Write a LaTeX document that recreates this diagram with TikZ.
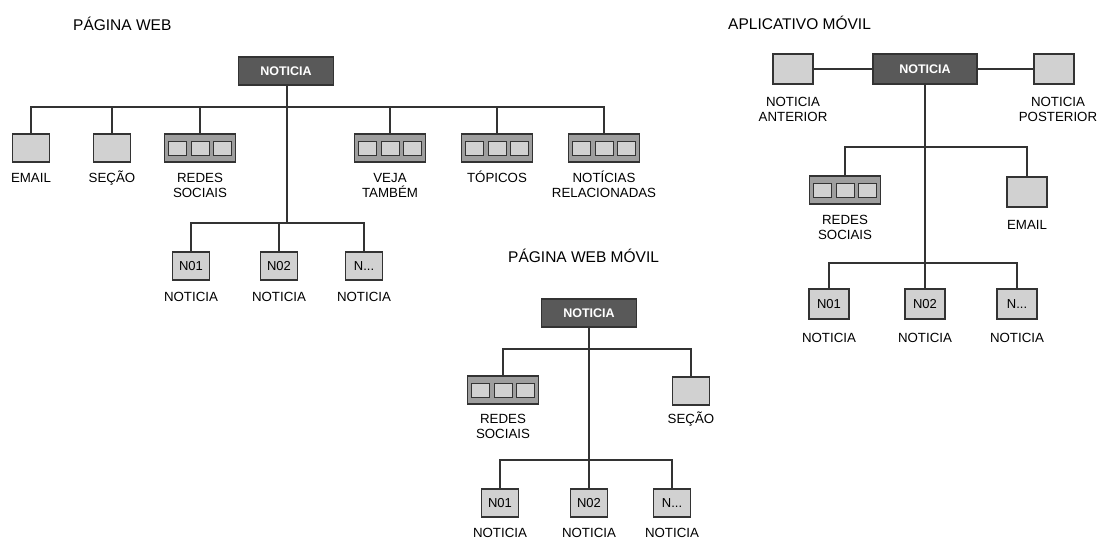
\documentclass[tikz,border=0pt]{standalone}
\usepackage{fontspec}
\setmainfont{Liberation Sans}
\begin{document}
\begin{tikzpicture}[x=1pt,y=-1pt,
  line/.style={draw=black!80,line width=1.1pt},
  head/.style={draw=black!80,line width=1.1pt,fill=black!65,text=white,
    font=\bfseries\fontsize{12.5}{14}\selectfont,minimum width=95pt,minimum height=28pt,inner sep=0pt},
  leaf/.style={draw=black!80,line width=1.1pt,fill=black!18,
    font=\fontsize{13}{15}\selectfont,minimum width=37pt,minimum height=28pt,inner sep=0pt},
  bigleaf/.style={leaf,minimum width=40pt,minimum height=30pt},
  group/.style={draw=black!80,line width=1.1pt,fill=black!38,minimum width=71pt,minimum height=28pt,inner sep=0pt,
    path picture={\foreach \dx in {-22.5,0,22.5}
      \draw[black!80,line width=1pt,fill=black!18]
        ([xshift=\dx pt]path picture bounding box.center) +(-9pt,-7pt) rectangle +(9pt,7pt);}},
  % label nodes sit on the baseline of their last line
  lbl/.style={anchor=base,align=center,inner sep=0pt,font=\fontsize{13.3}{15}\selectfont},
  ttl/.style={anchor=base west,inner sep=0pt,font=\fontsize{15.5}{17}\selectfont}]
\path[fill=white] (0,0) rectangle (1102,538);
\useasboundingbox (0,0) rectangle (1102,538);

% ---------- Pagina web ----------
\node[ttl] (t1) at (73,30) {PÁGINA WEB};
\node[head] (w) at (286,71) {NOTICIA};
\node[leaf] (wemail) at (31,148) {};
\node[leaf] (wsec) at (112,148) {};
\node[group] (wredes) at (200,148) {};
\node[group] (wveja) at (390,148) {};
\node[group] (wtop) at (497,148) {};
\node[group] (wrel) at (604,148) {};
\node[lbl] (lwemail) at (31,182) {EMAIL};
\node[lbl] (lwsec) at (112,182) {SEÇÃO};
\node[lbl] (lwredes) at (200,197) {REDES\\SOCIAIS};
\node[lbl] (lwveja) at (390,197) {VEJA\\TAMBÉM};
\node[lbl] (lwtop) at (497,182) {TÓPICOS};
\node[lbl] (lwrel) at (604,197) {NOTÍCIAS\\RELACIONADAS};
\node[leaf] (wn1) at (191,266) {N01};
\node[leaf] (wn2) at (279,266) {N02};
\node[leaf] (wn3) at (364,266) {N...};
\node[lbl] (lwn1) at (191,301) {NOTICIA};
\node[lbl] (lwn2) at (279,301) {NOTICIA};
\node[lbl] (lwn3) at (364,301) {NOTICIA};
\coordinate (wbus) at (287,107);
\coordinate (wsub) at (287,223);
\draw[line] (w.south -| wbus) -- (wsub);
\draw[line] (wemail.north) |- (wbus) -| (wrel.north);
\foreach \n in {wsec,wredes,wveja,wtop} \draw[line] (\n.north) -- (\n.north |- wbus);
\draw[line] (wn1.north) |- (wsub) -| (wn3.north);
\draw[line] (wn2.north) -- (wn2.north |- wsub);

% ---------- Pagina web movil ----------
\node[ttl] (t2) at (508,262) {PÁGINA WEB MÓVIL};
\node[head] (m) at (589,313) {NOTICIA};
\node[group] (mredes) at (503,390) {};
\node[leaf] (msec) at (691,391) {};
\node[lbl] (lmredes) at (503,438) {REDES\\SOCIAIS};
\node[lbl] (lmsec) at (691,423) {SEÇÃO};
\node[leaf] (mn1) at (500,503) {N01};
\node[leaf] (mn2) at (589,503) {N02};
\node[leaf] (mn3) at (672,503) {N...};
\node[lbl] (lmn1) at (500,537) {NOTICIA};
\node[lbl] (lmn2) at (589,537) {NOTICIA};
\node[lbl] (lmn3) at (672,537) {NOTICIA};
\coordinate (mbus) at (589,349);
\coordinate (msub) at (589,460);
\draw[line] (m.south) -- (mn2.north);
\draw[line] (mredes.north) |- (mbus) -| (msec.north);
\draw[line] (mn1.north) |- (msub) -| (mn3.north);

% ---------- Aplicativo movil ----------
\node[ttl] (t3) at (728,29) {APLICATIVO MÓVIL};
\node[head,minimum width=104pt,minimum height=30pt] (a) at (925,69) {NOTICIA};
\node[bigleaf] (aant) at (793,69) {};
\node[bigleaf] (apost) at (1054,69) {};
\node[lbl] (laant) at (793,121) {NOTICIA\\ANTERIOR};
\node[lbl] (lapost) at (1058,121) {NOTICIA\\POSTERIOR};
\node[group] (aredes) at (845,190) {};
\node[bigleaf] (aemail) at (1027,192) {};
\node[lbl] (laredes) at (845,239) {REDES\\SOCIAIS};
\node[lbl] (laemail) at (1027,229) {EMAIL};
\node[bigleaf] (an1) at (829,304) {N01};
\node[bigleaf] (an2) at (925,304) {N02};
\node[bigleaf] (an3) at (1017,304) {N...};
\node[lbl] (lan1) at (829,342) {NOTICIA};
\node[lbl] (lan2) at (925,342) {NOTICIA};
\node[lbl] (lan3) at (1017,342) {NOTICIA};
\coordinate (abus) at (925,147);
\coordinate (asub) at (925,263);
\draw[line] (aant.east) -- (a.west);
\draw[line] (a.east) -- (apost.west);
\draw[line] (a.south) -- (an2.north);
\draw[line] (aredes.north) |- (abus) -| (aemail.north);
\draw[line] (an1.north) |- (asub) -| (an3.north);
\end{tikzpicture}
\end{document}
